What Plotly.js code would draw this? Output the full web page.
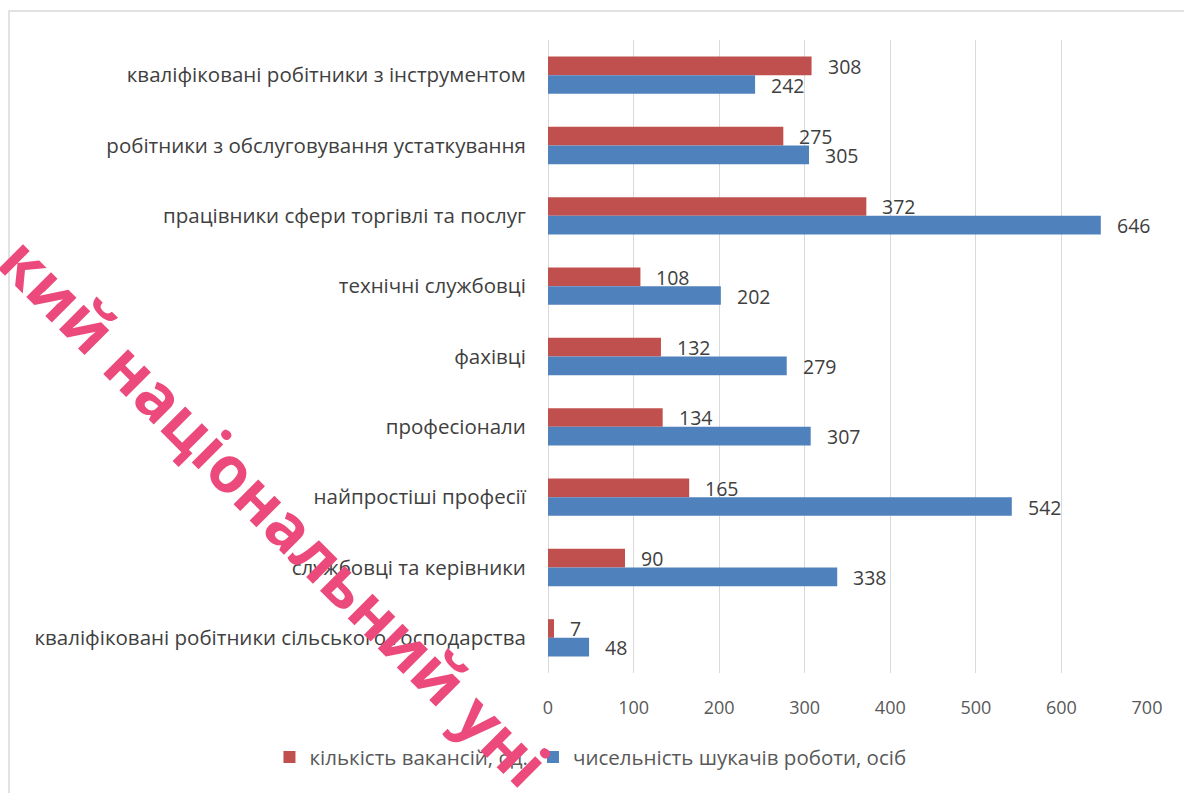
<!DOCTYPE html>
<html>
<head>
<meta charset="utf-8">
<script src="https://cdn.plot.ly/plotly-3.0.1.min.js"></script>
<style>
  html, body { margin: 0; padding: 0; background: #ffffff; }
  #chart { width: 1184px; height: 793px; }
</style>
</head>
<body>
<div id="chart"></div>
<script>
// Categories (top to bottom)
const categories = [
  "кваліфіковані робітники з інструментом",
  "робітники з обслуговування устаткування",
  "працівники сфери торгівлі та послуг",
  "технічні службовці",
  "фахівці",
  "професіонали",
  "найпростіші професії",
  "службовці та керівники",
  "кваліфіковані робітники сільського господарства"
];
const vacancies = [308, 275, 372, 108, 132, 134, 165, 90, 7];
const jobSeekers = [242, 305, 646, 202, 279, 307, 542, 338, 48];
const seriesNames = ["кількість вакансій, од.", "чисельність шукачів роботи, осіб"];
const xTicks = [0, 100, 200, 300, 400, 500, 600, 700];

const FONT = "'Open Sans', 'Noto Sans', sans-serif";
const RED = "#C0504D";
const BLUE = "#4F81BD";

const traces = [
  { type: "bar", orientation: "h", name: seriesNames[0], y: categories, x: vacancies,
    marker: { color: RED }, hoverinfo: "x+name" },
  { type: "bar", orientation: "h", name: seriesNames[1], y: categories, x: jobSeekers,
    marker: { color: BLUE }, hoverinfo: "x+name" }
];

const annotations = [];
categories.forEach((c, i) => {
  annotations.push({ x: vacancies[i], y: c, xref: "x", yref: "y", text: String(vacancies[i]),
    showarrow: false, xanchor: "left", yanchor: "middle", xshift: 14, yshift: 9,
    font: { family: FONT, size: 19.5, color: "#404040" } });
  annotations.push({ x: jobSeekers[i], y: c, xref: "x", yref: "y", text: String(jobSeekers[i]),
    showarrow: false, xanchor: "left", yanchor: "middle", xshift: 14, yshift: -10,
    font: { family: FONT, size: 19.5, color: "#404040" } });
});
// watermark
annotations.push({ xref: "paper", yref: "paper", x: -0.455, y: 0.255, xanchor: "center", yanchor: "middle",
  text: "<b>кий національний уні</b>", showarrow: false, textangle: 45,
  font: { family: "'Open Sans', sans-serif", size: 64, color: "#EC4A7C" } });

const layout = {
  width: 1184, height: 793,
  margin: { l: 548, r: 37, t: 40, b: 120 },
  paper_bgcolor: "#ffffff", plot_bgcolor: "#ffffff",
  barmode: "group", bargap: 0.47, bargroupgap: 0,
  showlegend: true,
  legend: { orientation: "h", x: -0.465, xanchor: "left", y: -0.133, yanchor: "middle",
    font: { family: FONT, size: 20.5, color: "#595959" }, traceorder: "normal" },
  xaxis: { range: [0, 700], tickvals: xTicks, ticktext: xTicks.map(String),
    showgrid: true, gridcolor: "#D9D9D9", gridwidth: 1, zeroline: true, zerolinecolor: "#D9D9D9",
    showline: false, ticks: "outside", ticklen: 18, tickcolor: "rgba(0,0,0,0)",
    tickfont: { family: FONT, size: 18, color: "#595959" }, fixedrange: true },
  yaxis: { type: "category", autorange: "reversed", showgrid: false, zeroline: false, showline: false,
    ticks: "outside", ticklen: 17, tickcolor: "rgba(0,0,0,0)",
    tickfont: { family: FONT, size: 20.5, color: "#404040" }, fixedrange: true },
  shapes: [{ type: "rect", xref: "paper", yref: "paper", x0: -0.8998, x1: 1.2, y0: -0.4, y1: 1.0459,
    line: { color: "#D9D9D9", width: 1.5 }, fillcolor: "rgba(0,0,0,0)", layer: "below" }],
  annotations: annotations
};

Plotly.newPlot("chart", traces, layout, { displayModeBar: false, staticPlot: true });
</script>
</body>
</html>
